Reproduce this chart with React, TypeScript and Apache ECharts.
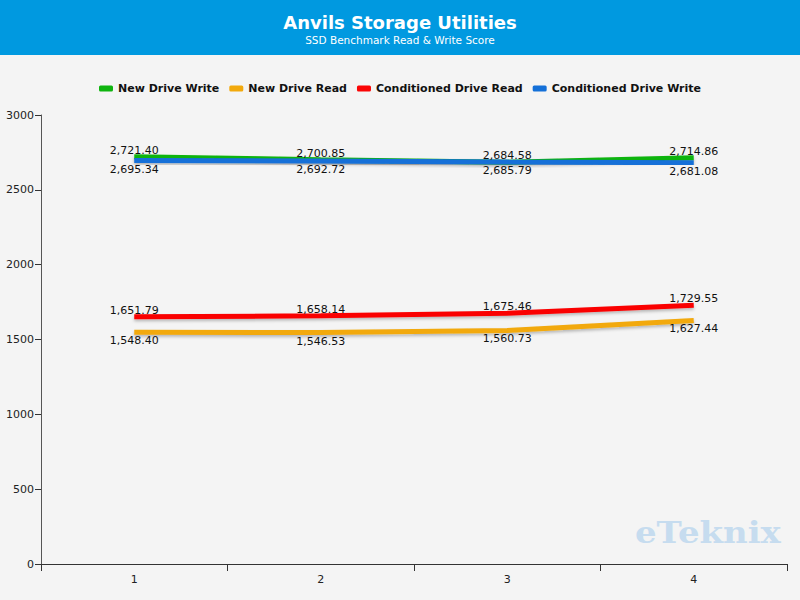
import React, { useEffect, useRef } from "react";
import * as echarts from "echarts";

const categories = ["1", "2", "3", "4"];
const newDriveWrite = [2721.4, 2700.85, 2684.58, 2714.86];
const newDriveRead = [1548.4, 1546.53, 1560.73, 1627.44];
const conditionedDriveRead = [1651.79, 1658.14, 1675.46, 1729.55];
const conditionedDriveWrite = [2695.34, 2692.72, 2685.79, 2681.08];

const seriesNames = ["New Drive Write", "New Drive Read", "Conditioned Drive Read", "Conditioned Drive Write"];
const seriesColors = ["#0fb40f", "#f2a90c", "#fa0505", "#1470d8"];
const seriesData = [newDriveWrite, newDriveRead, conditionedDriveRead, conditionedDriveWrite];
const labelSides = ["top", "bottom", "top", "bottom"];

const FONT = "DejaVu Sans";

const fmt = (v: number) =>
  v.toLocaleString("en-US", { minimumFractionDigits: 2, maximumFractionDigits: 2 });

export default function App() {
  const ref = useRef<HTMLDivElement>(null);
  useEffect(() => {
    if (!ref.current) return;
    const chart = echarts.init(ref.current, undefined, { renderer: "svg" });
    chart.setOption({
      animation: false,
      backgroundColor: "#f4f4f4",
      graphic: [
        {
          type: "rect",
          z: -10,
          shape: { x: 0, y: 0, width: 800, height: 55 },
          style: { fill: "#0099e0" },
        },
        {
          type: "text",
          z: -5,
          x: 635,
          y: 518,
          scaleX: 1.17,
          style: {
            text: "eTeknix",
            font: "bold 29px 'DejaVu Serif'",
            fill: "#c6dcef",
          },
        },
      ],
      title: {
        text: "Anvils Storage Utilities",
        subtext: "SSD Benchmark Read & Write Score",
        left: "center",
        top: 6,
        itemGap: 0,
        textStyle: { color: "#ffffff", fontSize: 18, fontWeight: "bold", fontFamily: FONT, lineHeight: 22 },
        subtextStyle: { color: "#ffffff", fontSize: 10.5, fontFamily: FONT, lineHeight: 13 },
      },
      legend: {
        top: 78,
        left: "center",
        itemWidth: 14,
        itemHeight: 6,
        itemGap: 10,
        icon: "roundRect",
        data: seriesNames,
        textStyle: { fontFamily: FONT, fontSize: 11, fontWeight: "bold", color: "#111" },
      },
      grid: { left: 41, right: 13, top: 115, bottom: 36, containLabel: false },
      xAxis: {
        type: "category",
        data: categories,
        boundaryGap: true,
        axisLine: { lineStyle: { color: "#333", width: 1 } },
        axisTick: { show: true, length: 7, lineStyle: { color: "#333" } },
        axisLabel: { color: "#222", fontFamily: FONT, fontSize: 11, margin: 10 },
        splitLine: { show: false },
      },
      yAxis: {
        type: "value",
        min: 0,
        max: 3000,
        interval: 500,
        axisLine: { show: true, lineStyle: { color: "#555", width: 1 } },
        axisTick: { show: true, length: 6, lineStyle: { color: "#333" } },
        axisLabel: {
          color: "#222",
          fontFamily: FONT,
          fontSize: 11,
          margin: 7,
          formatter: (v: number) => String(v),
        },
        splitLine: { show: false },
      },
      series: seriesData.map((d, i) => ({
        name: seriesNames[i],
        type: "line",
        data: d,
        color: seriesColors[i],
        symbol: "circle",
        symbolSize: 0,
        showSymbol: true,
        lineStyle: {
          width: 5,
          color: seriesColors[i],
          shadowColor: "rgba(0,0,0,0.25)",
          shadowBlur: 3,
          shadowOffsetY: 2,
        },
        label: {
          show: true,
          position: labelSides[i],
          distance: labelSides[i] === "top" ? 1 : 3,
          formatter: (p: any) => fmt(p.value),
          color: "#111",
          fontFamily: FONT,
          fontSize: 11,
        },
      })),
    });
    return () => chart.dispose();
  }, []);
  return (
    <div
      ref={ref}
      style={{ position: "fixed", left: 0, top: 0, width: 800, height: 600 }}
    />
  );
}
